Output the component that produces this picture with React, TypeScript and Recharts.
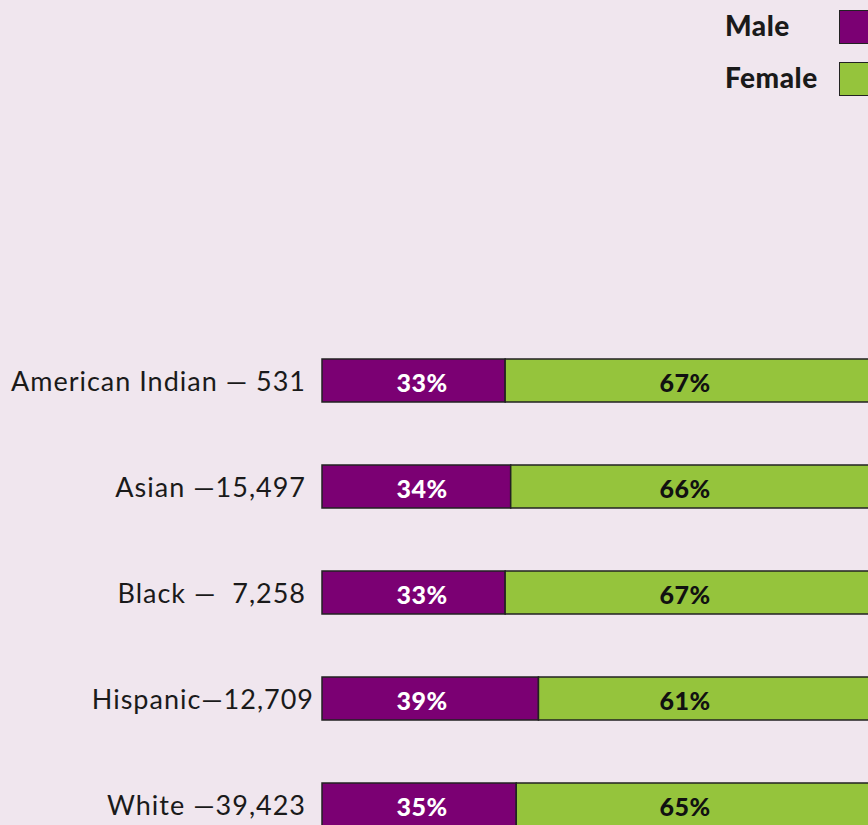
import React from 'react'
import { BarChart, Bar, XAxis, YAxis, LabelList } from 'recharts'

const groups = ['American Indian — 531', 'Asian —15,497', 'Black —  7,258', 'Hispanic—12,709', 'White —39,423']
const male = [33, 34, 33, 39, 35]
const female = [67, 66, 67, 61, 65]
const seriesNames = ['Male', 'Female']

const PURPLE = '#7b0073'
const GREEN = '#95c43c'
const BG = '#f0e6ee'
const PLOT_LEFT = 322
const FONT = 'Lato, "Open Sans", sans-serif'

const data = groups.map((g, i) => ({ group: g, male: male[i], female: female[i] }))

const GroupTick = (props: any) => {
  const { x, y, payload } = props
  const shift = payload.value.startsWith('Hispanic') ? 8 : 0
  return (
    <text x={x - 16 + shift} y={y} textAnchor="end" dominantBaseline="central"
      fontFamily={FONT} fontWeight={400} fontSize={27} letterSpacing={1} fill="#1a1a1a" style={{ whiteSpace: 'pre' }}>
      {payload.value}
    </text>
  )
}

const pctLabel = (offset: number, color: string) => (props: any) => {
  const { y, height, value } = props
  return (
    <text x={PLOT_LEFT + offset} y={y + height / 2 + 1} textAnchor="middle" dominantBaseline="central"
      fontFamily={FONT} fontWeight={900} fontSize={25} letterSpacing={0.5} fill={color}>
      {value}%
    </text>
  )
}

export default function App() {
  const colors = [PURPLE, GREEN]
  return (
    <div style={{ position: 'fixed', left: 0, top: 0, width: 868, height: 825, overflow: 'hidden', background: BG }}>
      <div style={{ position: 'absolute', left: 725, top: 10 }}>
        {seriesNames.map((n, i) => (
          <div key={n} style={{ display: 'flex', alignItems: 'center', height: 34, marginBottom: 18 }}>
            <span style={{ width: 114, fontFamily: FONT, fontWeight: 900, fontSize: 28, letterSpacing: 0.5, color: '#1a1a1a', lineHeight: '30px', marginTop: -4 }}>{n}</span>
            <span style={{ width: 40, height: 32, background: colors[i], border: '1.5px solid #222' }} />
          </div>
        ))}
      </div>
      <BarChart width={900} height={857} data={data} layout="vertical"
        margin={{ top: 327, right: 23, bottom: 0, left: 0 }} barSize={43}>
        <XAxis type="number" domain={[0, 100]} hide />
        <YAxis type="category" dataKey="group" width={PLOT_LEFT} axisLine={false} tickLine={false}
          tickSize={0} tickMargin={0} tick={<GroupTick />} interval={0} />
        <Bar dataKey="male" name="Male" stackId="a" fill={PURPLE} stroke="#222" strokeWidth={1.5} isAnimationActive={false}>
          <LabelList dataKey="male" content={pctLabel(100, '#ffffff')} />
        </Bar>
        <Bar dataKey="female" name="Female" stackId="a" fill={GREEN} stroke="#222" strokeWidth={1.5} isAnimationActive={false}>
          <LabelList dataKey="female" content={pctLabel(363, '#111111')} />
        </Bar>
      </BarChart>
    </div>
  )
}
